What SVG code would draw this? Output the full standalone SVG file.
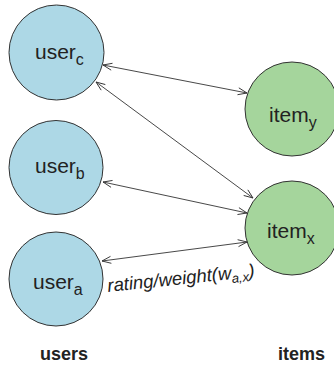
<svg xmlns="http://www.w3.org/2000/svg" width="334" height="367" viewBox="0 0 334 367">
<style>
.user{fill:#ADD8E6;stroke:#333;stroke-width:1}
.item{fill:#A5D59C;stroke:#333;stroke-width:1}
.lbl{font-family:"Liberation Sans",Arial,sans-serif;font-size:21px;fill:#222}
.sub{font-size:16px}
.edge{stroke:#333;stroke-width:0.9;fill:none;marker-start:url(#ah);marker-end:url(#ah)}
.cap{font-family:"Liberation Sans",Arial,sans-serif;font-size:18px;font-weight:bold;fill:#222}
.w{font-family:"Liberation Sans",Arial,sans-serif;font-size:18.5px;font-style:italic;fill:#222}
</style>
<defs>
<marker id="ah" markerUnits="userSpaceOnUse" markerWidth="12" markerHeight="10" refX="10" refY="4" orient="auto-start-reverse" viewBox="0 0 12 8">
<path d="M1,0.5 L10,4 L1,7.5" fill="none" stroke="#333" stroke-width="0.9"/>
</marker>
</defs>
<g id="connectors">
<line class="edge" x1="103" y1="65" x2="247" y2="93"/>
<line class="edge" x1="96" y1="82" x2="253" y2="198"/>
<line class="edge" x1="103" y1="182" x2="247" y2="213"/>
<line class="edge" x1="102" y1="261" x2="247" y2="242"/>
<text class="w" transform="rotate(-6 108 292)" x="108" y="292">rating/weight(w<tspan font-size="13" dy="4">a,x</tspan><tspan dy="-4">)</tspan></text>
</g>
<g id="user_c">
<circle class="user" cx="56.5" cy="52.5" r="47.5"/>
<text class="lbl" x="35" y="59">user<tspan class="sub" dy="6">c</tspan></text>
</g>
<g id="user_b">
<circle class="user" cx="56" cy="167.5" r="47"/>
<text class="lbl" x="35" y="173">user<tspan class="sub" dy="6">b</tspan></text>
</g>
<g id="user_a">
<circle class="user" cx="56" cy="279" r="47"/>
<text class="lbl" x="33" y="289">user<tspan class="sub" dy="6">a</tspan></text>
</g>
<g id="item_y">
<circle class="item" cx="292" cy="109" r="47"/>
<text class="lbl" x="269" y="122">item<tspan class="sub" dy="6">y</tspan></text>
</g>
<g id="item_x">
<circle class="item" cx="292" cy="228" r="47"/>
<text class="lbl" x="267" y="238">item<tspan class="sub" dy="6">x</tspan></text>
</g>
<g id="captions">
<text class="cap" x="40" y="360">users</text>
<text class="cap" x="278" y="360">items</text>
</g>
</svg>
